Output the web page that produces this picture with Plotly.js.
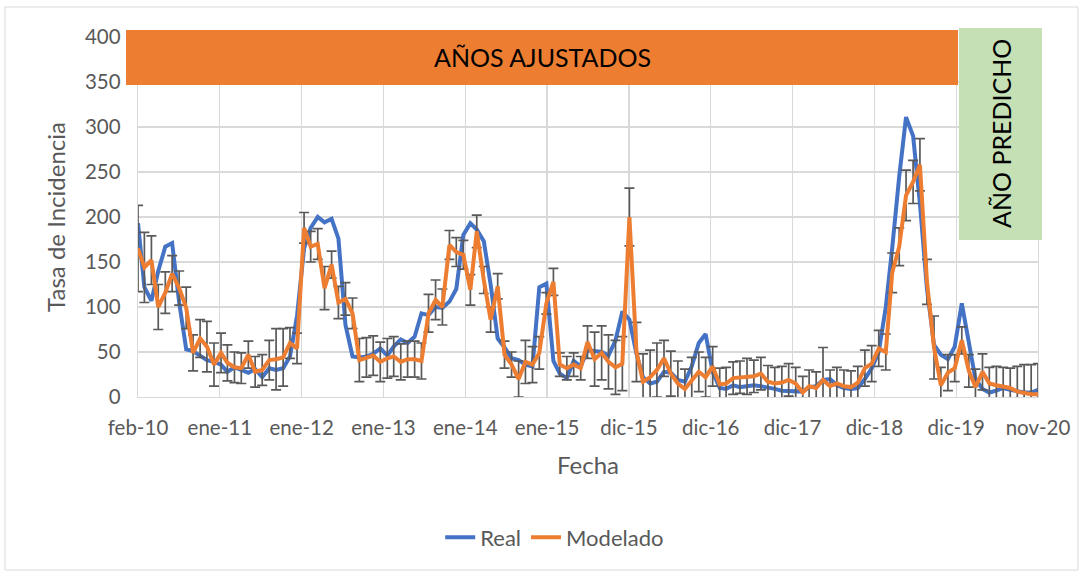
<!DOCTYPE html>
<html>
<head>
<meta charset="utf-8">
<script src="https://cdn.plot.ly/plotly-3.0.1.min.js"></script>
<style>
  html, body { margin: 0; padding: 0; background: #ffffff; }
  #chart { width: 1085px; height: 574px; }
</style>
</head>
<body>
<div id="chart"></div>
<script>
// Fechas (mensual, feb-2010 a dic-2020)
const fechas = [
  "2010-02-01","2010-03-01","2010-04-01","2010-05-01","2010-06-01","2010-07-01","2010-08-01","2010-09-01","2010-10-01","2010-11-01","2010-12-01",
  "2011-01-01","2011-02-01","2011-03-01","2011-04-01","2011-05-01","2011-06-01","2011-07-01","2011-08-01","2011-09-01","2011-10-01","2011-11-01","2011-12-01",
  "2012-01-01","2012-02-01","2012-03-01","2012-04-01","2012-05-01","2012-06-01","2012-07-01","2012-08-01","2012-09-01","2012-10-01","2012-11-01","2012-12-01",
  "2013-01-01","2013-02-01","2013-03-01","2013-04-01","2013-05-01","2013-06-01","2013-07-01","2013-08-01","2013-09-01","2013-10-01","2013-11-01","2013-12-01",
  "2014-01-01","2014-02-01","2014-03-01","2014-04-01","2014-05-01","2014-06-01","2014-07-01","2014-08-01","2014-09-01","2014-10-01","2014-11-01","2014-12-01",
  "2015-01-01","2015-02-01","2015-03-01","2015-04-01","2015-05-01","2015-06-01","2015-07-01","2015-08-01","2015-09-01","2015-10-01","2015-11-01","2015-12-01",
  "2016-01-01","2016-02-01","2016-03-01","2016-04-01","2016-05-01","2016-06-01","2016-07-01","2016-08-01","2016-09-01","2016-10-01","2016-11-01","2016-12-01",
  "2017-01-01","2017-02-01","2017-03-01","2017-04-01","2017-05-01","2017-06-01","2017-07-01","2017-08-01","2017-09-01","2017-10-01","2017-11-01","2017-12-01",
  "2018-01-01","2018-02-01","2018-03-01","2018-04-01","2018-05-01","2018-06-01","2018-07-01","2018-08-01","2018-09-01","2018-10-01","2018-11-01","2018-12-01",
  "2019-01-01","2019-02-01","2019-03-01","2019-04-01","2019-05-01","2019-06-01","2019-07-01","2019-08-01","2019-09-01","2019-10-01","2019-11-01","2019-12-01",
  "2020-01-01","2020-02-01","2020-03-01","2020-04-01","2020-05-01","2020-06-01","2020-07-01","2020-08-01","2020-09-01","2020-10-01","2020-11-01","2020-12-01"
];

// Serie Real (tasa de incidencia observada)
const real = [
  193,122,107,140,167,171,105,53,51,46,41,39,36,28,33,30,27,31,22,32,30,32,45,90,165,
  188,200,194,198,176,80,45,44,45,48,54,46,56,64,60,67,93,91,100,99,
  106,120,180,193,186,173,125,65,55,43,41,36,34,122,126,40,26,21,40,34,52,51,50,46,63,95,86,
  48,22,15,17,28,27,19,17,34,60,70,28,
  10,9,13,11,12,13,12,11,9,7,7,7,6,11,12,19,20,13,10,9,10,20,32,
  50,100,165,245,311,290,215,120,58,
  47,42,56,104,62,20,9,5,7,10,8,6,5,5,8
];

// Serie Modelado
const modelado = [
  165,144,152,100,116,137,121,99,49,65,56,36,49,38,33,32,47,28,30,41,42,44,60,54,188,
  167,170,121,147,105,109,93,41,44,46,39,43,45,39,42,42,40,93,108,100,
  169,161,158,119,184,130,86,123,47,36,20,39,36,49,104,128,36,32,36,32,61,42,49,39,33,37,200,
  50,17,22,30,43,26,15,9,19,28,22,34,
  14,15,21,22,23,23,26,17,15,16,19,15,5,12,10,19,12,15,12,11,16,
  32,37,54,50,138,167,224,239,258,128,55,
  13,27,32,63,29,11,28,15,13,12,10,6,4,3,3
];

// Error (+/-) del modelo
const errorModelado = [
  48,39,27,25,23,20,19,23,20,21,28,24,22,20,17,17,15,17,17,22,34,32,17,17,17,
  17,17,24,15,18,18,17,24,22,22,22,22,22,20,20,20,20,21,22,20,
  16,16,16,17,18,15,14,14,15,14,20,24,20,18,12,15,13,13,13,13,18,30,30,30,30,30,32,
  33,31,30,30,20,25,25,22,25,22,22,22,
  18,18,18,18,20,18,18,18,18,18,18,18,18,18,18,36,18,18,18,18,18,
  20,20,20,20,22,21,28,24,29,25,35,
  20,20,15,15,18,20,20,18,21,21,22,28,32,33,34
];

// Etiquetas del eje X
const etiquetasX = ["feb-10","ene-11","ene-12","ene-13","ene-14","ene-15","dic-15","dic-16","dic-17","dic-18","dic-19","nov-20"];

const inicio = Date.UTC(2010, 1, 1);
const fin = Date.UTC(2020, 11, 1);
const paso = (fin - inicio) / (etiquetasX.length - 1);
const posTicks = etiquetasX.map((_, k) => inicio + k * paso);

const FONT = "Lato, 'Liberation Sans', Arial, sans-serif";
const GRAY = "#595959";
const GRID = "#D9D9D9";

const traces = [
  {
    x: fechas, y: real, name: "Real", type: "scatter", mode: "lines",
    line: { color: "#4472C4", width: 4 }
  },
  {
    x: fechas, y: modelado, name: "Modelado", type: "scatter", mode: "lines",
    line: { color: "#ED7D31", width: 4 },
    error_y: { type: "data", array: errorModelado, visible: true, color: "#595959", thickness: 1.7, width: 5 }
  }
];

const layout = {
  width: 1085, height: 574,
  margin: { l: 138, r: 47, t: 37, b: 177 },
  paper_bgcolor: "#ffffff", plot_bgcolor: "#ffffff",
  font: { family: FONT, color: GRAY, size: 20 },
  showlegend: true,
  legend: {
    orientation: "h", x: 0.463, xanchor: "center", y: -0.39, yanchor: "middle",
    font: { family: FONT, size: 22, color: GRAY }
  },
  xaxis: {
    type: "date",
    range: [inicio, fin],
    tickmode: "array", tickvals: posTicks, ticktext: etiquetasX,
    showgrid: true, gridcolor: GRID, gridwidth: 1.3,
    showline: true, linecolor: GRID, linewidth: 1.3,
    zeroline: false, ticks: "", ticklabelstandoff: 12,
    tickfont: { family: FONT, size: 20.5, color: GRAY },
    title: { text: "Fecha", font: { family: FONT, size: 24, color: GRAY }, standoff: 19 }
  },
  yaxis: {
    range: [0, 400], dtick: 50, tick0: 0,
    showgrid: true, gridcolor: GRID, gridwidth: 1.3,
    showline: true, mirror: true, linecolor: GRID, linewidth: 1.3,
    zeroline: false, ticks: "", ticklabelstandoff: 12,
    tickfont: { family: FONT, size: 20.5, color: GRAY },
    title: { text: "Tasa de Incidencia", font: { family: FONT, size: 24, color: GRAY }, standoff: 12 }
  },
  shapes: [
    { type: "rect", xref: "paper", yref: "paper", x0: -0.1478, x1: 1.0444, y0: -0.4806, y1: 1.0833,
      line: { color: GRID, width: 1 }, fillcolor: "rgba(0,0,0,0)", layer: "below" },
    { type: "rect", xref: "paper", yref: "paper", x0: -0.0133, x1: 0.9111, y0: 0.8667, y1: 1.0194,
      line: { width: 0 }, fillcolor: "#ED7D31", layer: "above" },
    { type: "rect", xref: "paper", yref: "paper", x0: 0.9122, x1: 1.0044, y0: 0.436, y1: 1.025,
      line: { width: 0 }, fillcolor: "#C5E0B4", layer: "above" }
  ],
  annotations: [
    { text: "AÑOS AJUSTADOS", xref: "paper", yref: "paper", x: 0.449, y: 0.944,
      showarrow: false, xanchor: "center", yanchor: "middle",
      font: { family: FONT, size: 25, color: "#000000" } },
    { text: "AÑO PREDICHO", xref: "paper", yref: "paper", x: 0.9589, y: 0.7306,
      showarrow: false, xanchor: "center", yanchor: "middle", textangle: -90,
      font: { family: FONT, size: 25, color: "#000000" } }
  ]
};

Plotly.newPlot("chart", traces, layout, { staticPlot: true, displayModeBar: false });
</script>
</body>
</html>
